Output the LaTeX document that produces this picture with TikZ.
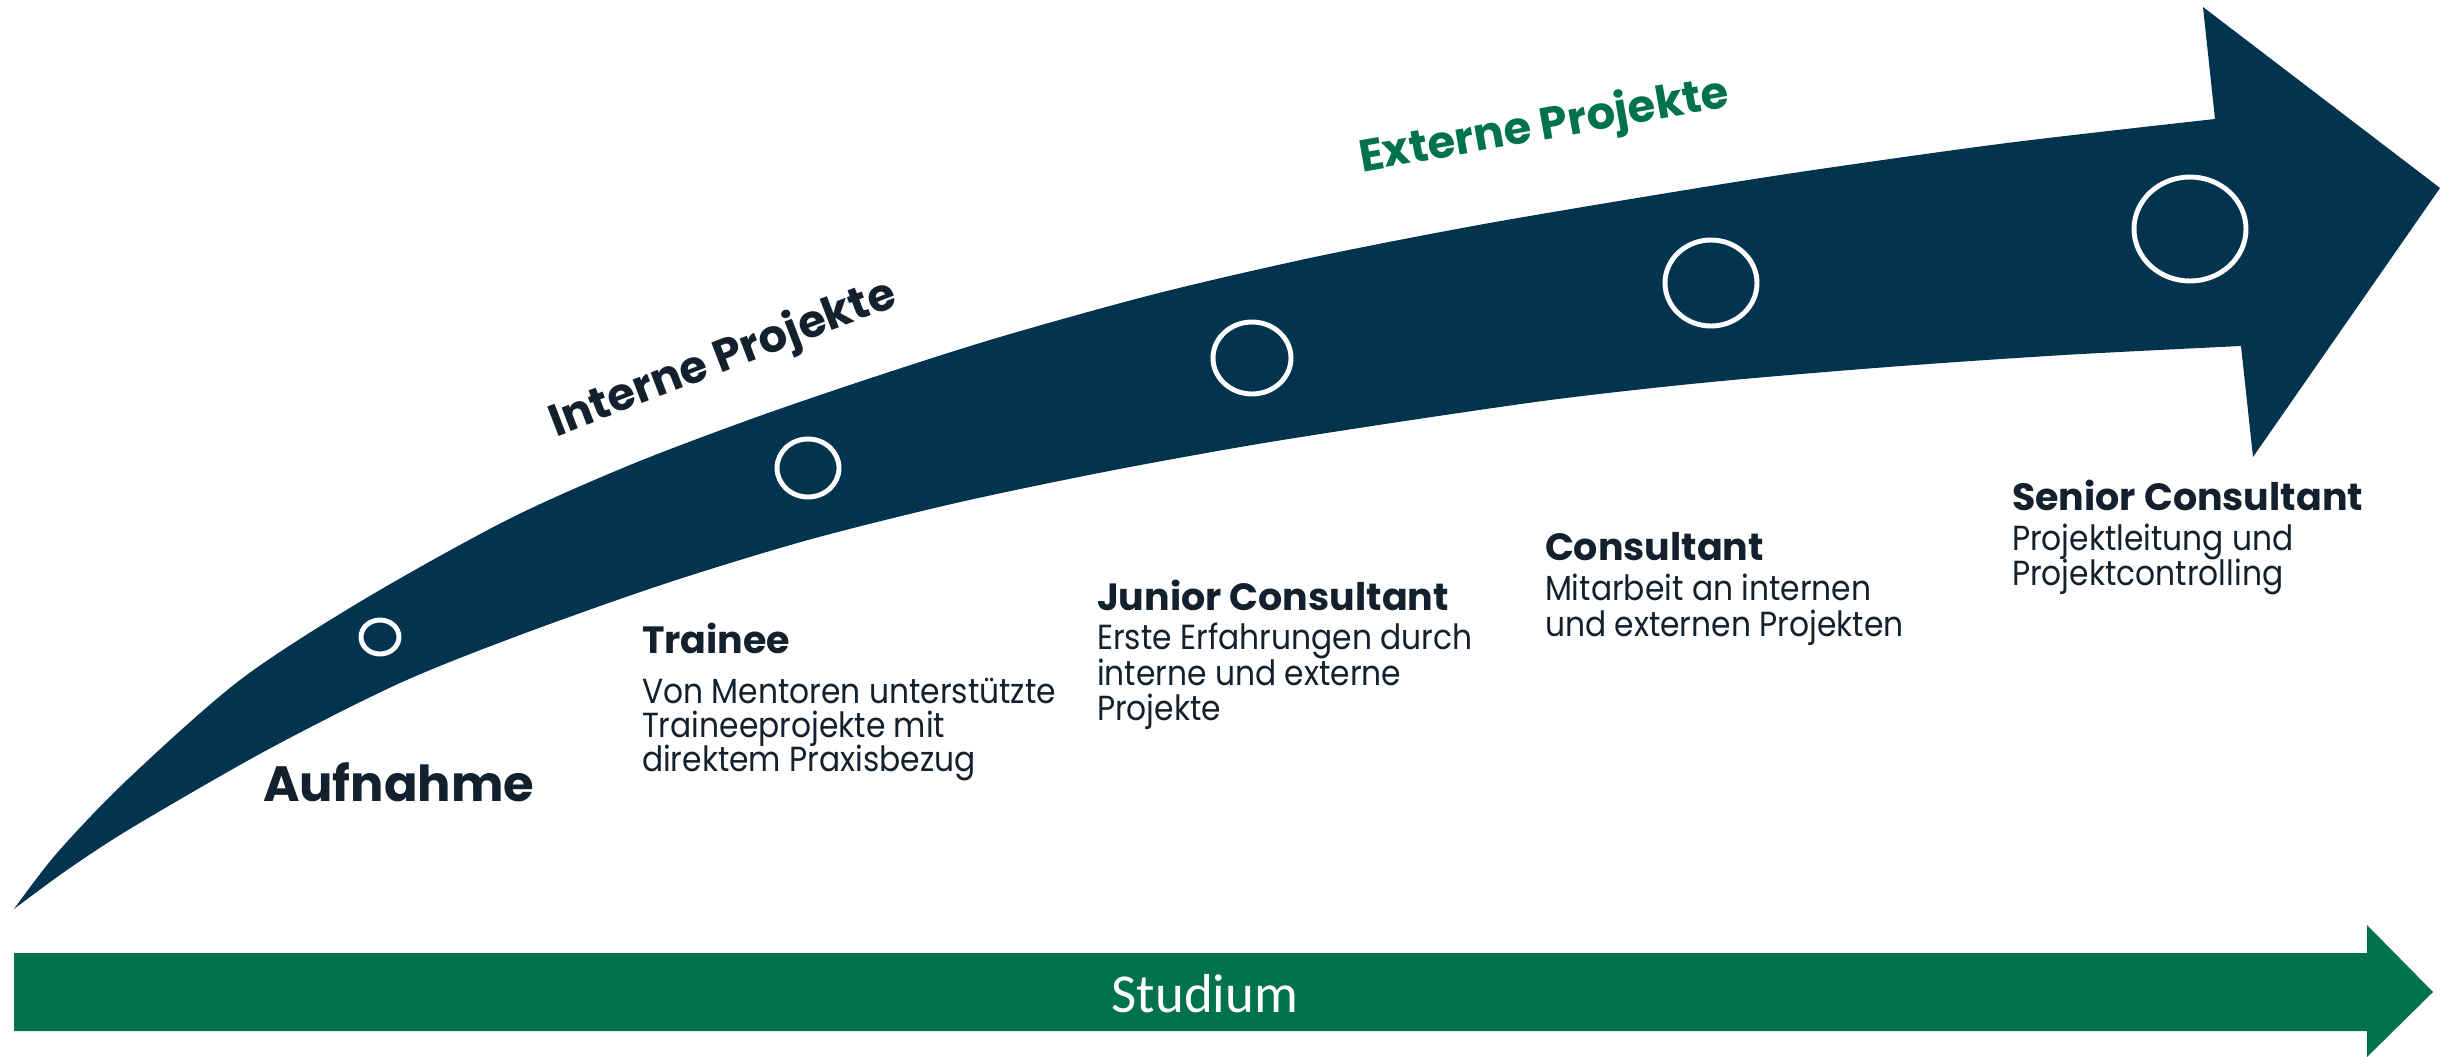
\documentclass[tikz,border=0pt]{standalone}
\usepackage{fontspec}
\setmainfont{Poppins}
\newfontfamily\bodyfont[FakeStretch=0.9]{Poppins}
\newfontfamily\studfont{Carlito}
\definecolor{navy}{RGB}{2,52,79}
\definecolor{dtext}{RGB}{19,32,46}
\definecolor{dgreen}{RGB}{0,115,77}
\tikzset{
  txt/.style={anchor=base west, inner sep=0pt, outer sep=0pt, text=dtext},
  bighead/.style={txt, font=\fontsize{14.1pt}{16pt}\selectfont\bfseries},
  head/.style={txt, font=\fontsize{10.8pt}{12pt}\selectfont\bfseries},
  body/.style={txt, font=\bodyfont\fontsize{9.9pt}{11pt}\selectfont},
  slant/.style={txt, font=\fontsize{12.8pt}{14pt}\selectfont\bfseries},
  ring/.style={draw=white, line width=1.4pt},
}
\begin{document}
\begin{tikzpicture}[x=0.01cm,y=-0.01cm]
\useasboundingbox (0,0) rectangle (2450,1057);
% big curved arrow
\fill[navy] plot[smooth, tension=0.5] coordinates {(14,909) (57,853) (127,780) (240,680) (363,600) (507,520) (630,465) (754,418) (877,376) (1000,337) (1155,294) (1310,258) (1473,226) (1637,198) (1800,172) (2007,143) (2215,119)}
  -- (2203,7) -- (2440,188) -- (2253,457) -- (2241,346)
  -- plot[smooth, tension=0.5] coordinates {(2241,346) (2064,355) (1888,367) (1711,382) (1558,399) (1405,421) (1252,445) (1104,472) (956,503) (808,540) (664,584) (520,635) (400,683) (267,750) (133,827) (67,870) (14,909)} -- cycle;
% rings
\draw[ring] (380,637) ellipse [x radius=19, y radius=17];
\draw[ring] (808,468) ellipse [x radius=31, y radius=29];
\draw[ring] (1252,358) ellipse [x radius=39, y radius=36];
\draw[ring] (1711,283) ellipse [x radius=46, y radius=43];
\draw[ring] (2190,229) ellipse [x radius=56, y radius=52];
% green arrow
\fill[dgreen] (14,953) -- (2367,953) -- (2367,925) -- (2433,992) -- (2367,1057) -- (2367,1031) -- (14,1031) -- cycle;
\node[anchor=base, inner sep=0pt, text=white, font=\studfont\fontsize{15.6pt}{17pt}\selectfont] (stud) at (1205,1012) {Studium};
% rotated labels
\node[slant, rotate=21] (intern) at (556,437) {Interne Projekte};
\node[slant, rotate=10, text=dgreen] (extern) at (1362,172) {Externe Projekte};
% stages
\node[bighead] (auf) at (263,801) {Aufnahme};
\node[head] (tr) at (642,653) {Trainee};
\node[body] (tr1) at (642,703) {Von Mentoren unterstützte};
\node[body] (tr2) at (642,737) {Traineeprojekte mit};
\node[body] (tr3) at (642,771) {direktem Praxisbezug};
\node[head] (jc) at (1097,610) {Junior Consultant};
\node[body] (jc1) at (1097,649) {Erste Erfahrungen durch};
\node[body] (jc2) at (1097,685) {interne und externe};
\node[body] (jc3) at (1097,720) {Projekte};
\node[head] (co) at (1545,560) {Consultant};
\node[body] (co1) at (1545,600) {Mitarbeit an internen};
\node[body] (co2) at (1545,636) {und externen Projekten};
\node[head] (sc) at (2012,510) {Senior Consultant};
\node[body] (sc1) at (2012,550) {Projektleitung und};
\node[body] (sc2) at (2012,585) {Projektcontrolling};
\end{tikzpicture}
\end{document}
